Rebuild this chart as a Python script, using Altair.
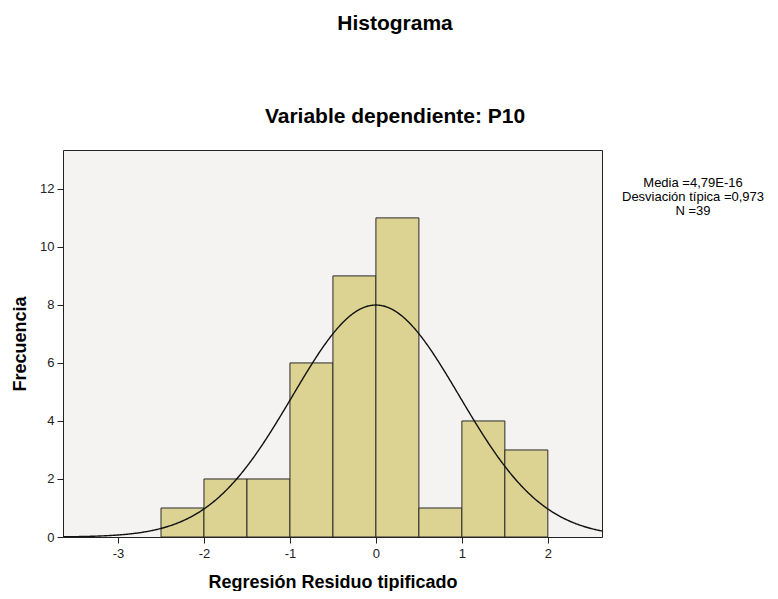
import altair as alt
import pandas as pd

# ---- data ----
bin_starts = [-2.5, -2.0, -1.5, -1.0, -0.5, 0.0, 0.5, 1.0, 1.5]
counts = [1, 2, 2, 6, 9, 11, 1, 4, 3]
bin_width = 0.5
mean_value = 4.79e-16
sd_value = 0.973
n_value = 39
x_ticks = [-3, -2, -1, 0, 1, 2]
y_ticks = [0, 2, 4, 6, 8, 10, 12]
x_domain = [-3.64, 2.63]
y_domain = [0, 13.34]
main_title = "Histograma"
sub_title = "Variable dependiente: P10"
stats_lines = ["Media =4,79E-16", "Desviación típica =0,973", "N =39"]
x_title = "Regresión Residuo tipificado"
y_title = "Frecuencia"

FONT = "Liberation Sans"
LABEL_EXPR = "datum.value < 0 ? '-' + abs(datum.value) : '' + datum.value"

df = pd.DataFrame({
    "start": bin_starts,
    "end": [b + bin_width for b in bin_starts],
    "count": counts,
    "zero": [0] * len(counts),
})

xscale = alt.Scale(domain=x_domain, nice=False, zero=False)
yscale = alt.Scale(domain=y_domain, nice=False)

bars = alt.Chart(df).mark_rect(
    fill="#dcd392", stroke="#2a2a2a", strokeWidth=1
).encode(
    x=alt.X("start:Q", scale=xscale,
            axis=alt.Axis(values=x_ticks, title=x_title, titlePadding=13, labelPadding=4,
                          labelExpr=LABEL_EXPR)),
    x2="end:Q",
    y=alt.Y("count:Q", scale=yscale,
            axis=alt.Axis(values=y_ticks, title=y_title, titlePadding=10, labelPadding=3,
                          labelExpr=LABEL_EXPR)),
    y2="zero:Q",
)

curve_expr = (
    f"{n_value}*{bin_width}*exp(-0.5*pow((datum.x-({mean_value}))/{sd_value},2))"
    f"/({sd_value}*sqrt(2*PI))"
)
curve = alt.Chart(alt.sequence(x_domain[0], x_domain[1] + 0.01, 0.01, as_="x")).transform_calculate(
    y=curve_expr
).mark_line(color="#111111", strokeWidth=1.4, clip=True).encode(
    x=alt.X("x:Q", scale=xscale),
    y=alt.Y("y:Q", scale=yscale),
)

t1 = alt.Chart(pd.DataFrame({"t": [main_title]})).mark_text(
    font=FONT, fontSize=21, fontWeight="bold", color="#000", align="center", baseline="alphabetic"
).encode(text="t:N", x=alt.value(332), y=alt.value(-120))

t2 = alt.Chart(pd.DataFrame({"t": [sub_title]})).mark_text(
    font=FONT, fontSize=21, fontWeight="bold", color="#000", align="center", baseline="alphabetic"
).encode(text="t:N", x=alt.value(332), y=alt.value(-27))

stats = alt.Chart(pd.DataFrame({"t": ["\n".join(stats_lines)]})).mark_text(
    font=FONT, fontSize=13, color="#000", align="center", baseline="middle",
    lineBreak="\n", lineHeight=14
).encode(text="t:N", x=alt.value(630), y=alt.value(33))

chart = alt.layer(bars, curve, t1, t2, stats).properties(
    width=539, height=387,
    autosize=alt.AutoSizeParams(type="none"),
    padding={"left": 55, "top": 142, "right": 168, "bottom": 54},
).configure_view(
    fill="#f4f3f2", stroke="#222222", strokeWidth=1
).configure_axis(
    labelFont=FONT, labelFontSize=13, labelColor="#222222",
    tickColor="#222222", tickSize=6, tickWidth=1,
    domain=False, grid=False,
    titleFont=FONT, titleFontSize=18, titleFontWeight="bold", titleColor="#000000",
)

chart.save("out.html", embed_options={"renderer": "svg", "actions": False})
